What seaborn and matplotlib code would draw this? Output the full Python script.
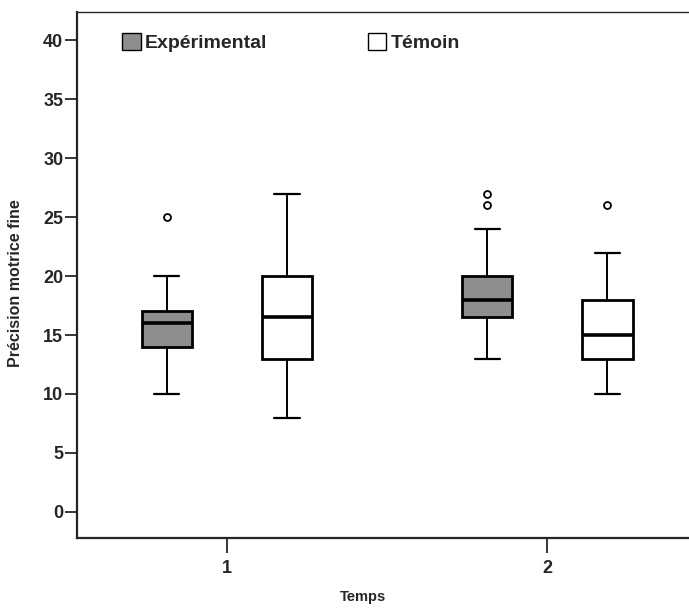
import matplotlib
matplotlib.use("Agg")
import matplotlib.pyplot as plt
from matplotlib.patches import Patch
import seaborn as sns
import pandas as pd

# observations read back from the box plots (quartiles, whiskers, outliers)
exp_t1 = [10, 13, 14, 15, 16, 17, 17, 20, 25]
tem_t1 = [8, 11, 13, 15, 16.5, 18, 20, 24, 27]
exp_t2 = [13, 15, 16, 16.5, 17, 17.5, 18, 19, 19.5, 20, 24, 26, 27]
tem_t2 = [10, 12, 13, 14, 15, 16, 18, 22, 26]

temps_labels = ["1", "2"]
groups = ["Expérimental", "Témoin"]
colors = {"Expérimental": "#8e8e8e", "Témoin": "white"}

rows = []
for t, g, vals in [("1", "Expérimental", exp_t1), ("1", "Témoin", tem_t1),
                   ("2", "Expérimental", exp_t2), ("2", "Témoin", tem_t2)]:
    for v in vals:
        rows.append({"Temps": t, "Groupe": g, "Score": v})
df = pd.DataFrame(rows)

sns.set_style("ticks")
plt.rcParams['font.family'] = ['Liberation Sans', 'DejaVu Sans']
plt.rcParams['font.weight'] = 'bold'

fig = plt.figure(figsize=(6.89, 6.09), dpi=100)
ax = fig.add_axes([0.112, 0.117, 0.887, 0.863])

sns.boxplot(data=df, x="Temps", y="Score", hue="Groupe", order=temps_labels,
            hue_order=groups, palette=colors, saturation=1, width=0.75, gap=0.58,
            linecolor="black", linewidth=1.3, legend=False, ax=ax,
            boxprops=dict(linewidth=2.0),
            medianprops=dict(linewidth=2.6, color="black"),
            whiskerprops=dict(linewidth=1.4),
            capprops=dict(linewidth=1.6),
            flierprops=dict(marker="o", markersize=5, markerfacecolor="white",
                            markeredgecolor="black", markeredgewidth=1.3))

ax.set_xlim(-0.467, 1.44)
ax.set_ylim(-2.2, 42.4)
ax.set_yticks(range(0, 41, 5))
ax.set_xticks([0, 1])
ax.set_xticklabels(temps_labels)

for side in ["left", "bottom"]:
    ax.spines[side].set_linewidth(1.6)
ax.spines["top"].set_linewidth(1.0)
ax.spines["right"].set_visible(False)
ax.tick_params(axis="y", length=9, width=1.3, labelsize=13, pad=1)
ax.tick_params(axis="x", length=11, width=1.3, labelsize=13, pad=5)

ax.set_ylabel("Précision motrice fine", fontsize=11.5, fontweight="bold")
ax.yaxis.set_label_coords(-0.088, 0.485)
ax.set_xlabel("Temps", fontsize=10.5, fontweight="bold")
ax.xaxis.set_label_coords(0.468, -0.099)

handles = [Patch(facecolor=colors[g], edgecolor="black", linewidth=1.0, label=g) for g in groups]
ax.legend(handles=handles, loc="upper left", bbox_to_anchor=(0.0736, 0.96), ncol=2,
          frameon=False, borderpad=0, borderaxespad=0, handlelength=0.95,
          handleheight=0.95, handletextpad=0.2, columnspacing=5.2,
          prop={"size": 14, "weight": "bold"})

fig.savefig("out.png", dpi=100)
